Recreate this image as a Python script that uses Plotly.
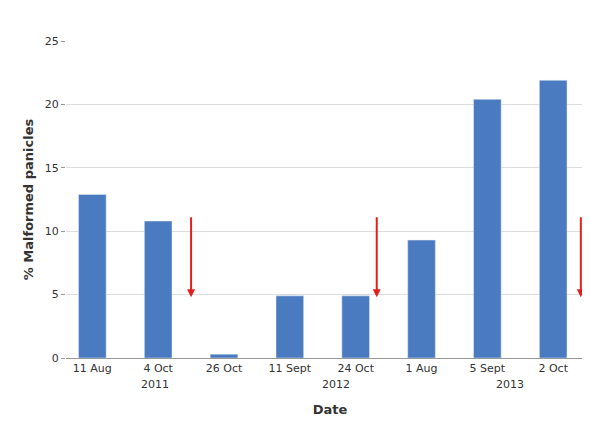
import plotly.graph_objects as go

dates = ["11 Aug", "4 Oct", "26 Oct", "11 Sept", "24 Oct", "1 Aug", "5 Sept", "2 Oct"]
malformed = [12.9, 10.8, 0.3, 4.9, 4.9, 9.3, 20.4, 21.9]
years = ["2011", "2012", "2013"]
year_pos = [0.95, 3.7, 6.35]
arrow_x = [1.5, 4.32, 7.42]
arrow_top = [11.1, 11.1, 11.1]
arrow_bottom = [4.8, 4.8, 4.8]

x = list(range(len(dates)))
fig = go.Figure(go.Bar(x=x, y=malformed, marker_color="#4a7bc0", width=0.42))

for xa, yt, yb in zip(arrow_x, arrow_top, arrow_bottom):
    fig.add_shape(type="line", x0=xa, x1=xa, y0=yt, y1=yb + 0.5, xref="x", yref="y",
                  line=dict(color="#e0201b", width=2))
    fig.add_annotation(x=xa, y=yb, ax=0, ay=-8, xref="x", yref="y",
                       text="", showarrow=True, arrowhead=2, arrowsize=0.8,
                       arrowwidth=2, arrowcolor="#e0201b")

for yr, xp in zip(years, year_pos):
    fig.add_annotation(x=xp, y=-0.11, xref="x", yref="paper", text=yr,
                       showarrow=False, font=dict(size=11, color="#333"))

fig.update_layout(
    width=590, height=431, plot_bgcolor="white", paper_bgcolor="white",
    margin=dict(l=58, r=4, t=33, b=81),
    font=dict(family="DejaVu Sans", size=11, color="#333"),
    showlegend=False,
    xaxis=dict(tickvals=x, ticktext=dates, range=[-0.4, 7.62], showline=True,
               linecolor="#999", ticks="", title=dict(text="<b>Date</b>", standoff=30)),
    yaxis=dict(range=[0, 25], dtick=5, gridcolor="#ddd", ticks="outside", ticklen=4,
               tickcolor="#999", zeroline=False,
               title=dict(text="<b>% Malformed panicles</b>", standoff=8)),
)
fig.write_html("out.html")
